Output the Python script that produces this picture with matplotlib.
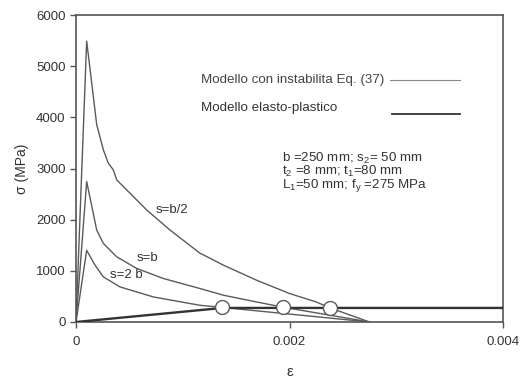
import matplotlib
matplotlib.use("Agg")
import matplotlib.pyplot as plt

plt.rcParams['font.family'] = ['Liberation Sans', 'DejaVu Sans']
plt.rcParams['mathtext.fontset'] = 'custom'
plt.rcParams['mathtext.rm'] = 'Liberation Sans'
plt.rcParams['mathtext.it'] = 'Liberation Sans'

# Data (strain, stress MPa)
eps_b2 = [0, 0.0001, 0.000194, 0.000256, 0.000302, 0.000349, 0.000381, 0.000475,
          0.000662, 0.00088, 0.00116, 0.00138, 0.00169, 0.0020, 0.00225, 0.00238, 0.00275]
sig_b2 = [0, 5490, 3857, 3367, 3106, 2975, 2778, 2582,
          2190, 1798, 1347, 1112, 818, 557, 392, 275, 0]

eps_b = [0, 0.0001, 0.000194, 0.000256, 0.000381, 0.000568, 0.000817, 0.00116,
         0.00138, 0.00169, 0.00194, 0.00275]
sig_b = [0, 2745, 1798, 1537, 1275, 1047, 851, 655,
         524, 392, 290, 0]

eps_2b = [0, 0.0001, 0.000178, 0.000256, 0.000412, 0.000724, 0.00116, 0.00137, 0.00275]
sig_2b = [0, 1400, 1112, 882, 686, 490, 327, 285, 0]

eps_ep = [0, 0.001375, 0.004]
sig_ep = [0, 275, 275]

eps_circ = [0.00137, 0.00194, 0.00238]
sig_circ = [285, 290, 275]

curve_labels = ["s=b/2", "s=b", "s=2 b"]
legend_labels = ["Modello con instabilita Eq. (37)", "Modello elasto-plastico"]
param_lines = ["b =250 mm; s$_2$= 50 mm", "t$_2$ =8 mm; t$_1$=80 mm", "L$_1$=50 mm; f$_y$ =275 MPa"]
xticks = [0, 0.002, 0.004]
xticklabels = ["0", "0.002", "0.004"]
yticks = [0, 1000, 2000, 3000, 4000, 5000, 6000]

W, H = 522, 379
fig = plt.figure(figsize=(W/100, H/100), dpi=100)
ax = fig.add_axes([76/W, 1-322/H, (503-76)/W, (322-15)/H])

gray = '#5a5a5a'
dark = '#333333'
for e, s in [(eps_b2, sig_b2), (eps_b, sig_b), (eps_2b, sig_2b)]:
    ax.plot(e, s, color=gray, lw=1.0, zorder=2)
ax.plot(eps_ep, sig_ep, color=dark, lw=1.7, zorder=3)
ax.plot(eps_circ, sig_circ, 'o', ms=10, mfc='white', mec=gray, mew=1.0, zorder=4)

ax.set_xlim(0, 0.004)
ax.set_ylim(0, 6000)
ax.set_xticks(xticks)
ax.set_xticklabels(xticklabels)
ax.set_yticks(yticks)
for sp in ax.spines.values():
    sp.set_color('#555555')
    sp.set_linewidth(1.2)
ax.tick_params(axis='both', colors='#555555', labelcolor='#333333', labelsize=9.5,
               length=4, width=1)
ax.tick_params(axis='x', pad=6)

ax.set_ylabel("σ (MPa)", fontsize=10, color='#333333', labelpad=5)
ax.set_xlabel("ε", fontsize=11, color='#333333', labelpad=12)

# curve labels
ax.text(0.00075, 2190, curve_labels[0], fontsize=9.5, color='#333333', va='center')
ax.text(0.00057, 1260, curve_labels[1], fontsize=9.5, color='#333333', va='center')
ax.text(0.00032, 910, curve_labels[2], fontsize=9.5, color='#333333', va='center')

# legend
tf = fig.transFigure
def fx(x): return x / W
def fy(y): return 1 - y / H
fig.text(fx(201), fy(80), legend_labels[0], fontsize=9.6, color='#444444', va='center', ha='left')
fig.text(fx(201), fy(108), legend_labels[1], fontsize=9.6, color='#333333', va='center', ha='left')
fig.add_artist(plt.Line2D([fx(390), fx(460)], [fy(80), fy(80)], transform=tf, color='#888888', lw=0.8))
fig.add_artist(plt.Line2D([fx(392), fx(460)], [fy(114), fy(114)], transform=tf, color='#333333', lw=1.3))

fig.text(fx(282), fy(172.5), "\n".join(param_lines), fontsize=9.6, color='#333333',
         va='center', ha='left', linespacing=0.78)

fig.savefig("out.png", dpi=100)
